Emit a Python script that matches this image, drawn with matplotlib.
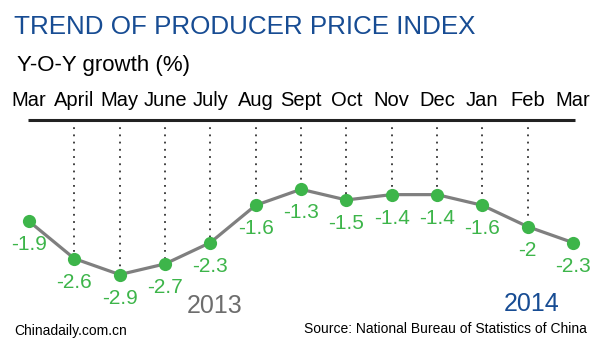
import matplotlib
matplotlib.use("Agg")
import matplotlib.pyplot as plt

months = ["Mar", "April", "May", "June", "July", "Aug", "Sept", "Oct", "Nov", "Dec", "Jan", "Feb", "Mar"]
ppi = [-1.9, -2.6, -2.9, -2.7, -2.3, -1.6, -1.3, -1.5, -1.4, -1.4, -1.6, -2.0, -2.3]
value_labels = ["-1.9", "-2.6", "-2.9", "-2.7", "-2.3", "-1.6", "-1.3", "-1.5", "-1.4", "-1.4", "-1.6", "-2", "-2.3"]

plt.rcParams['font.family'] = ['Liberation Sans', 'DejaVu Sans']

W, H = 600, 349
fig = plt.figure(figsize=(6, 3.49), dpi=100)
fig.patch.set_facecolor('white')
ax = fig.add_axes([0, 0, 1, 1])
ax.set_axis_off()
ax.set_xlim(-0.64, 12.597)
ax.set_ylim(-4.296, 2.251)

x = list(range(len(months)))
green = "#3db54a"
blue = "#174c93"

# zero line at top
ax.plot([-0.02, 12.04], [0, 0], color="#222222", lw=2.2, solid_capstyle='butt', zorder=2)

# dotted drops
for i in range(1, len(months) - 1):
    ax.plot([i, i], [0, ppi[i]], color="#333333", lw=1.3, linestyle=(0, (1, 3)), zorder=1)

ax.plot(x, ppi, color="#7f7f7f", lw=2.3, zorder=3)
ax.plot(x, ppi, 'o', color=green, markersize=9.5, markeredgewidth=0, zorder=4)

for i, (v, lab) in enumerate(zip(ppi, value_labels)):
    ax.annotate(lab, (i, v), xytext=(0, -29), textcoords='offset pixels',
                ha='center', va='baseline', fontsize=15, color=green)

month_base = (120 - 106.5) / 53.3
for i, m in enumerate(months):
    ax.text(i, month_base, m, ha='center', va='baseline', fontsize=14.5, color='black')

fig.text(14 / W, 1 - 34.5 / H, "TREND OF PRODUCER PRICE INDEX", fontsize=18.7, color=blue,
         ha='left', va='baseline')
fig.text(17 / W, 1 - 71 / H, "Y-O-Y growth (%)", fontsize=16, color='black',
         ha='left', va='baseline')
fig.text(215 / W, 1 - 313 / H, "2013", fontsize=18, color="#6d6d6d", ha='center', va='baseline')
fig.text(532 / W, 1 - 311 / H, "2014", fontsize=18, color=blue, ha='center', va='baseline')
fig.text(14 / W, 1 - 335 / H, "Chinadaily.com.cn", fontsize=10, color='black',
         ha='left', va='baseline')
fig.text(587 / W, 1 - 333 / H, "Source: National Bureau of Statistics of China", fontsize=10,
         color='black', ha='right', va='baseline')

fig.savefig("out.png", dpi=100, facecolor='white')
